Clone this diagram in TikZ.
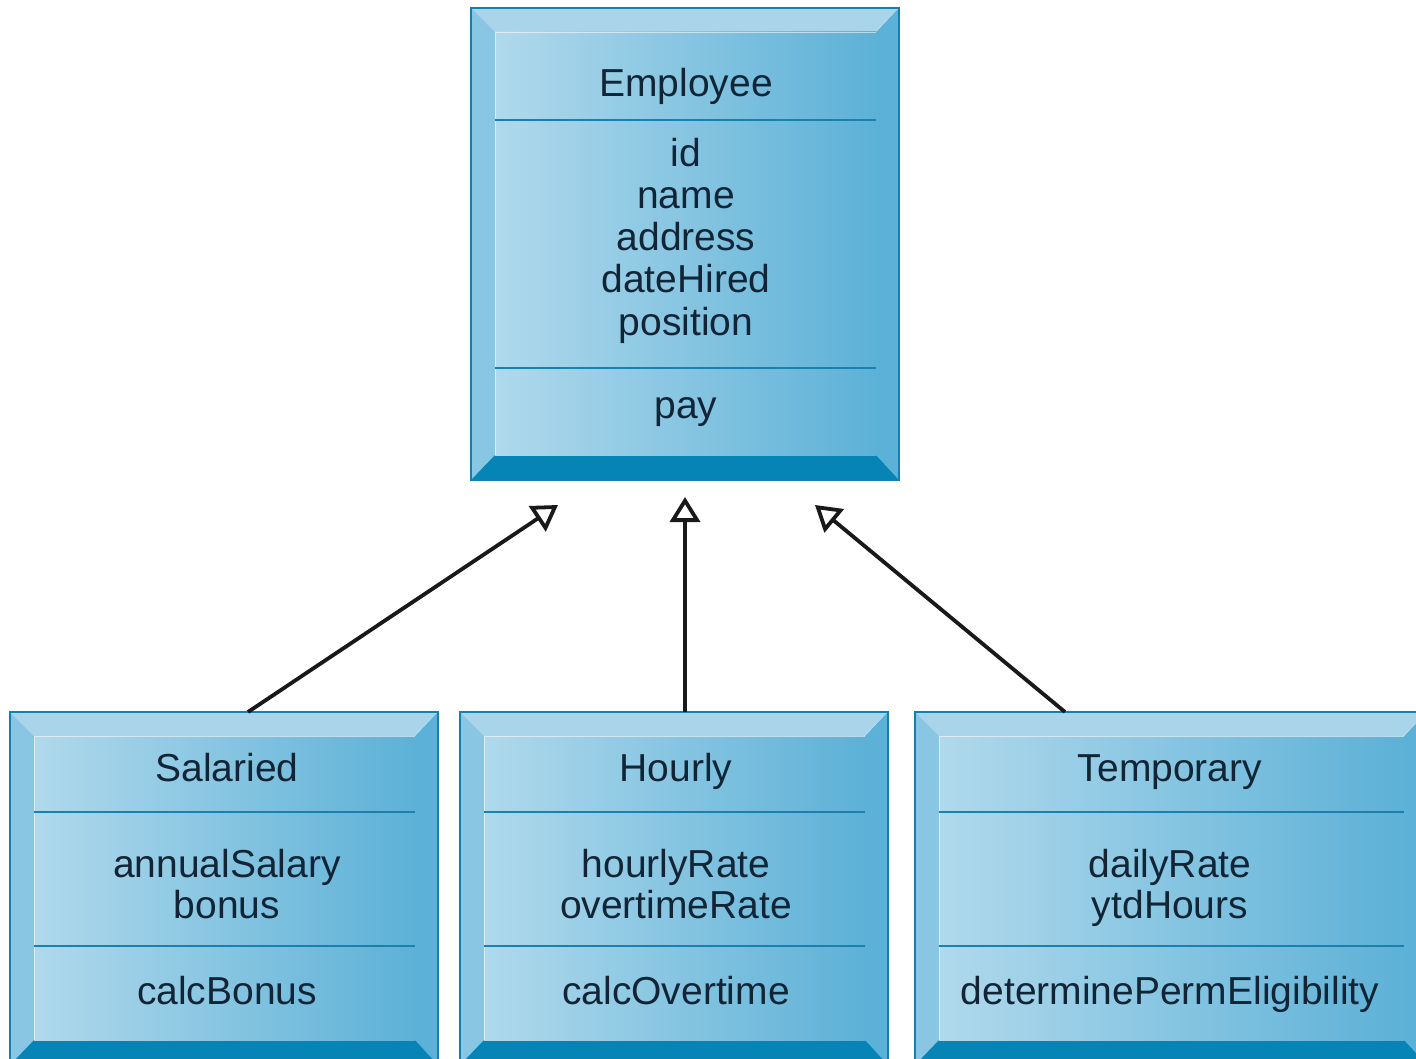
\documentclass[tikz,border=0pt]{standalone}
\usepackage{fontspec}
\setmainfont{Liberation Sans}
\usetikzlibrary{arrows.meta,fit}
\definecolor{topb}{HTML}{A9D4E9}
\definecolor{leftb}{HTML}{88C6E3}
\definecolor{rightb}{HTML}{5CB1D8}
\definecolor{botb}{HTML}{0784B6}
\definecolor{edgec}{HTML}{1580AD}
\definecolor{faceL}{HTML}{B0D9EC}
\definecolor{faceR}{HTML}{5DB1D7}
\definecolor{divc}{HTML}{1A80AE}
\definecolor{txtc}{HTML}{122536}
\tikzset{
  lbl/.style={anchor=base, inner sep=0pt, text=txtc, font=\fontsize{39}{42}\selectfont},
  conn/.style={line width=3.8pt, draw=black!90, -{Triangle[open,length=25pt,width=30pt,line width=3.8pt]}},
  divline/.style={draw=divc, line width=2.5pt},
  hilite/.style={draw=white, draw opacity=0.55, line width=1.5pt}
}
% name, x1, y1, x2, y2, divider1, divider2
\newcommand{\bevelbox}[7]{%
  \fill[topb] (#2,#3) -- (#4,#3) -- (#4-24,#3+24) -- (#2+24,#3+24) -- cycle;
  \fill[leftb] (#2,#3) -- (#2+24,#3+24) -- (#2+24,#5-25) -- (#2,#5) -- cycle;
  \fill[rightb] (#4,#3) -- (#4,#5) -- (#4-23,#5-25) -- (#4-23,#3+24) -- cycle;
  \fill[botb] (#2,#5) -- (#4,#5) -- (#4-23,#5-25) -- (#2+24,#5-25) -- cycle;
  \shade[left color=faceL, right color=faceR] (#2+24,#3+24) rectangle (#4-23,#5-25);
  \draw[hilite] (#2+24.5,#5-25) -- (#2+24.5,#3+24.5) -- (#4-23,#3+24.5);
  \draw[divline] (#2+24,#6) -- (#4-23,#6);
  \draw[divline] (#2+24,#7) -- (#4-23,#7);
  \draw[edgec, line width=2.5pt] (#2,#3) rectangle (#4,#5);
  \coordinate (#1nw) at (#2,#3);
  \coordinate (#1se) at (#4,#5);
  \node[fit=(#1nw)(#1se), inner sep=0pt] (#1) {};
}
\begin{document}
\begin{tikzpicture}[x=1pt,y=-1pt]
\useasboundingbox (0,0) rectangle (1416,1059);
\clip (0,0) rectangle (1416,1059);
\fill[white] (0,0) rectangle (1416,1059);

% Employee
\bevelbox{emp}{471}{8}{899}{480}{120}{368}
\node[lbl] (empT) at (686,97) {Employee};
\node[lbl] (empA1) at (686,167) {id};
\node[lbl] (empA2) at (686,209) {name};
\node[lbl] (empA3) at (686,251) {address};
\node[lbl] (empA4) at (686,293) {dateHired};
\node[lbl] (empA5) at (686,335) {position};
\node[lbl] (empM1) at (686,418) {pay};

% Salaried
\bevelbox{sal}{10}{712}{438}{1065}{812}{946}
\node[lbl] (salT) at (227,781) {Salaried};
\node[lbl] (salA1) at (227,877) {annualSalary};
\node[lbl] (salA2) at (227,918) {bonus};
\node[lbl] (salM1) at (227,1004) {calcBonus};

% Hourly
\bevelbox{hou}{460}{712}{888}{1065}{812}{946}
\node[lbl] (houT) at (676,781) {Hourly};
\node[lbl] (houA1) at (676,877) {hourlyRate};
\node[lbl] (houA2) at (676,918) {overtimeRate};
\node[lbl] (houM1) at (676,1004) {calcOvertime};

% Temporary
\bevelbox{tmp}{915}{712}{1427}{1065}{812}{946}
\node[lbl] (tmpT) at (1170,781) {Temporary};
\node[lbl] (tmpA1) at (1170,877) {dailyRate};
\node[lbl] (tmpA2) at (1170,918) {ytdHours};
\node[lbl] (tmpM1) at (1170,1004) {determinePermEligibility};

% connector end points
\coordinate (salTop) at (248,712);
\coordinate (houTop) at (685,712);
\coordinate (tmpTop) at (1065,712);
\coordinate (tipL) at (558,505);
\coordinate (tipM) at (685,497);
\coordinate (tipR) at (815,505);

\draw[conn] (salTop) -- (tipL);
\draw[conn] (houTop) -- (tipM);
\draw[conn] (tmpTop) -- (tipR);
\end{tikzpicture}
\end{document}
